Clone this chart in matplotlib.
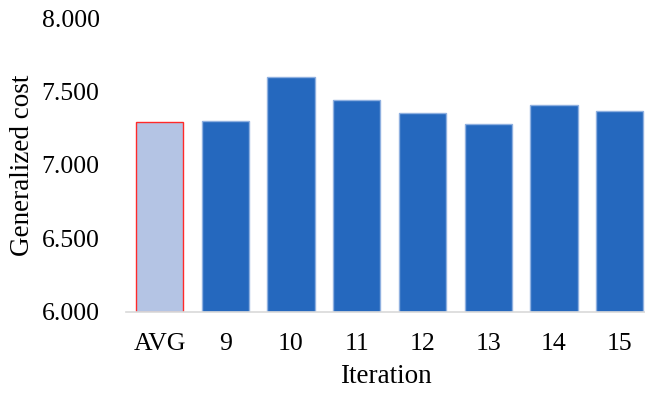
import matplotlib
matplotlib.use("Agg")
from matplotlib import pyplot as plt

# values
iterations = ["AVG", "9", "10", "11", "12", "13", "14", "15"]
cost = [7.29, 7.30, 7.60, 7.44, 7.35, 7.28, 7.41, 7.37]
y_ticks = [6.0, 6.5, 7.0, 7.5, 8.0]
y_tick_labels = ["6.000", "6.500", "7.000", "7.500", "8.000"]

plt.rcParams["font.family"] = ["Liberation Serif", "DejaVu Serif"]

fig = plt.figure(figsize=(6.45, 3.93), dpi=100)
ax = fig.add_axes([126 / 645, 81.3 / 393, 1 - 126 / 645, (311.7 - 18) / 393])

face = ["#B4C4E4"] + ["#2568BE"] * (len(iterations) - 1)
edge = ["#FF2A2A"] + ["#8FB0E0"] * (len(iterations) - 1)
x = list(range(len(iterations)))
ax.bar(x, [c - 6.0 for c in cost], bottom=6.0, width=0.72,
       color=face, edgecolor=edge, linewidth=1.0, zorder=2)

ax.set_ylim(6.0, 8.0)
ax.set_xlim(-0.51, 7.384)
ax.set_yticks(y_ticks)
ax.set_yticklabels(y_tick_labels)
ax.set_xticks(x)
ax.set_xticklabels(iterations)
ax.tick_params(axis="y", length=0, pad=19, labelsize=18.5)
ax.tick_params(axis="x", length=0, pad=15, labelsize=18.5)

for s in ["top", "right", "left"]:
    ax.spines[s].set_visible(False)
ax.spines["bottom"].set_color("#D9D9D9")
ax.spines["bottom"].set_linewidth(1.2)

ax.set_ylabel("Generalized cost", fontsize=19.5, labelpad=5)
ax.set_xlabel("Iteration", fontsize=19.5, labelpad=7)

fig.savefig("out.png", dpi=100)
